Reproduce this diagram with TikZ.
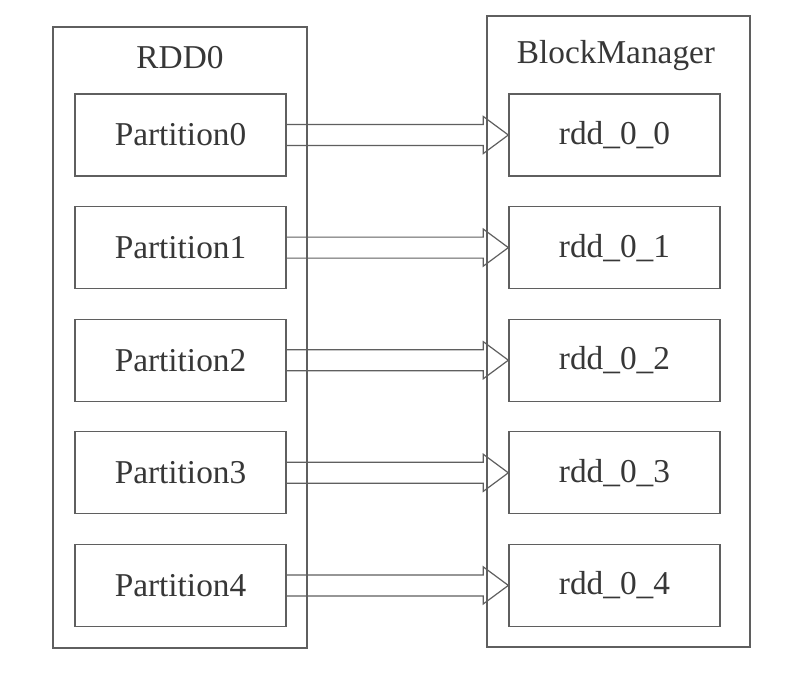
\documentclass[tikz,border=0pt]{standalone}
\usepackage{fontspec}
\setmainfont{Liberation Serif}
\usetikzlibrary{calc}
\definecolor{linegray}{RGB}{95,95,95}
\definecolor{textgray}{RGB}{55,55,55}
\tikzset{
  outerbox/.style={draw=linegray, line width=1pt},
  innerbox/.style={draw=linegray, line width=1pt, rectangle, minimum width=158.25pt, minimum height=61.5pt, inner sep=0pt, text=textgray, font=\fontsize{25}{30}\selectfont},
  titletext/.style={text=textgray, font=\fontsize{25}{30}\selectfont, inner sep=0pt},
  arr/.style={draw=linegray, line width=0.9pt, line join=miter}
}
\begin{document}
\begin{tikzpicture}[x=0.75pt, y=-0.75pt]
\useasboundingbox[fill=white] (0,0) rectangle (792,672);
% outer boxes
\draw[outerbox] (53,27) rectangle (307,648);
\draw[outerbox] (487,16) rectangle (750,647);
\node[titletext] (t1) at (180,58) {RDD0};
\node[titletext] (t2) at (616,56) {BlockManager};
% inner boxes
\foreach \i in {0,...,4} {
  \pgfmathsetmacro{\yy}{135+112.6*\i}
  \node[innerbox] (p\i) at (180.5,\yy) {Partition\i};
  \node[innerbox] (r\i) at (614.5,\yy) {rdd\_0\_\i};
}
% arrows
\foreach \i in {0,...,4} {
  \draw[arr] ($(p\i.east)+(0,-10.5)$) -- ($(r\i.west)+(-25,-10.5)$) -- ($(r\i.west)+(-25,-18.5)$) -- (r\i.west) -- ($(r\i.west)+(-25,18.5)$) -- ($(r\i.west)+(-25,10.5)$) -- ($(p\i.east)+(0,10.5)$);
}
\end{tikzpicture}
\end{document}
